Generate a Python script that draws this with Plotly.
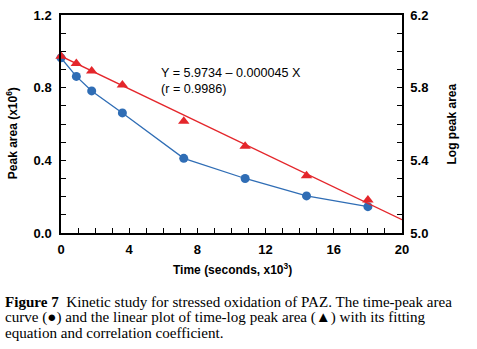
import plotly.graph_objects as go

# Data (time in seconds x10^3)
time_k = [0, 0.9, 1.8, 3.6, 7.2, 10.8, 14.4, 18.0]
peak_area = [0.964, 0.862, 0.782, 0.661, 0.411, 0.300, 0.204, 0.145]   # x10^6
log_peak_area = [5.973, 5.933, 5.892, 5.814, 5.615, 5.477, 5.315, 5.181]
fit_intercept = 5.9734
fit_slope = -0.000045   # per second
fit_x = [0, 20]

caption_lines = [
    "<b>Figure 7</b>  Kinetic study for stressed oxidation of PAZ. The time-peak area",
    "curve (\u25cf) and the linear plot of time-log peak area (\u25b2) with its fitting",
    "equation and correlation coefficient.",
]

BLUE = "#2F6DB5"
RED = "#E4262B"
FONT = "Liberation Sans, Arial, sans-serif"

fig = go.Figure()
fig.add_trace(go.Scatter(
    x=time_k, y=peak_area, mode="lines+markers",
    line=dict(color=BLUE, width=1.3),
    marker=dict(symbol="circle", size=9, color=BLUE),
    showlegend=False, cliponaxis=False))
fig.add_trace(go.Scatter(
    x=fit_x, y=[fit_intercept + fit_slope * xx * 1000 for xx in fit_x],
    mode="lines", line=dict(color=RED, width=1.3),
    yaxis="y2", showlegend=False))
fig.add_trace(go.Scatter(
    x=time_k, y=log_peak_area, mode="markers",
    marker=dict(symbol="triangle-up", size=10, color=RED),
    yaxis="y2", showlegend=False, cliponaxis=False))

tickfont = dict(family=FONT, size=13, color="black", weight="bold")
common = dict(showline=True, linecolor="black", linewidth=1.5, ticks="inside",
              ticklen=5, tickwidth=1, tickcolor="black", showgrid=False,
              zeroline=False, tickfont=tickfont)

fig.update_layout(
    width=477, height=349,
    margin=dict(l=61, r=75, t=8, b=116, pad=0),
    paper_bgcolor="white", plot_bgcolor="white",
    xaxis=dict(range=[0, 20], dtick=4, tick0=0, mirror=True,
               minor=dict(dtick=1, ticks="inside", ticklen=5, tickcolor="black"),
               ticklabelstandoff=4, **common),
    yaxis=dict(range=[0, 1.2], dtick=0.4, tick0=0, tickformat=".1f",
               minor=dict(dtick=0.1, ticks="inside", ticklen=5, tickcolor="black"),
               ticklabelstandoff=5, **common),
    yaxis2=dict(range=[5.0, 6.2], dtick=0.4, tick0=5.0, tickformat=".1f",
                overlaying="y", side="right", anchor="x",
                minor=dict(dtick=0.1, ticks="inside", ticklen=5, tickcolor="black"),
                ticklabelstandoff=4, **common),
)

PH = 225.0
PW = 341.0
def py(yabs):
    return (233 - yabs) / PH
def px(xabs):
    return (xabs - 61) / PW

ann = []
ann.append(dict(text="Y = 5.9734 \u2013 0.000045 X<br>(r = 0.9986)", xref="paper", yref="paper",
                x=px(159), y=py(76), xanchor="left", yanchor="middle", align="left",
                showarrow=False, font=dict(family=FONT, size=12.6, color="black")))
ann.append(dict(text="Time (seconds, x10<sup>3</sup>)", xref="paper", yref="paper",
                x=px(232), y=py(270), xanchor="center", yanchor="middle",
                showarrow=False, font=dict(family=FONT, size=12, color="black", weight="bold")))
ann.append(dict(text="Peak area (x10<sup>6</sup>)", xref="paper", yref="paper",
                x=px(12), y=py(130), xanchor="center", yanchor="middle", textangle=-90,
                showarrow=False, font=dict(family=FONT, size=12, color="black", weight="bold")))
ann.append(dict(text="Log peak area", xref="paper", yref="paper",
                x=px(452), y=py(121), xanchor="center", yanchor="middle", textangle=-90,
                showarrow=False, font=dict(family=FONT, size=12, color="black", weight="bold")))
for line, yc in zip(caption_lines, [304, 320.5, 336]):
    ann.append(dict(text=line, xref="paper", yref="paper", x=px(3), y=py(yc),
                    xanchor="left", yanchor="middle", align="left", showarrow=False,
                    font=dict(family="Liberation Serif, serif", size=15.1, color="black")))
fig.update_layout(annotations=ann)

fig.write_html("out.html", config={"displayModeBar": False},
               post_script="document.body.style.margin='0';document.body.style.overflow='hidden';")
